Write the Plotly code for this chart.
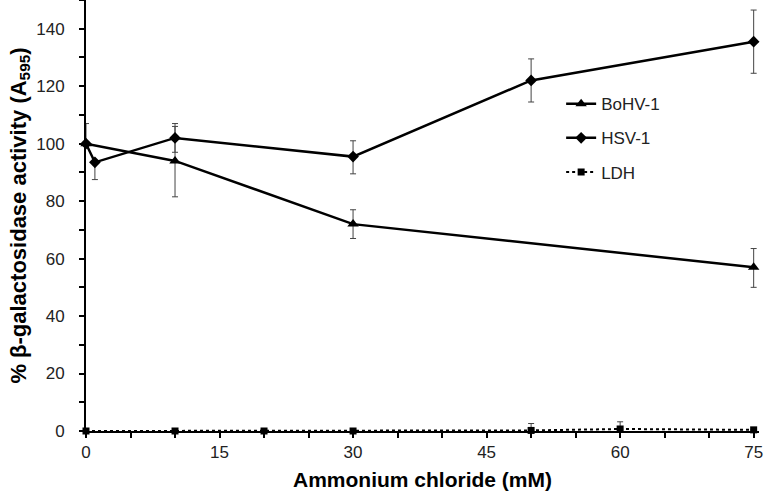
import plotly.graph_objects as go

# BoHV-1 (triangles)
bohv_x = [0, 10, 30, 75]
bohv_y = [100, 94, 72, 57]
bohv_err_plus = [7, 12, 5, 6.5]
bohv_err_minus = [0, 12.5, 5, 7]

# HSV-1 (diamonds)
hsv_x = [0, 1, 10, 30, 50, 75]
hsv_y = [100, 93.5, 102, 95.5, 122, 135.5]
hsv_err_plus = [0, 0, 5, 5.5, 7.5, 11]
hsv_err_minus = [0, 6, 5, 6, 7.5, 11]

# LDH (squares, dotted)
ldh_x = [0, 10, 20, 30, 50, 60, 75]
ldh_y = [0, 0, 0, 0, 0.2, 0.7, 0.4]
ldh_err_plus = [0, 0, 0, 0, 2.4, 2.5, 0]
ldh_err_minus = [0, 0, 0, 0, 0, 0, 0]

x_ticks = [0, 15, 30, 45, 60, 75]
y_ticks = [0, 20, 40, 60, 80, 100, 120, 140]

err_style = dict(type="data", symmetric=False, color="#444444", thickness=1, width=3)

fig = go.Figure()
fig.add_trace(go.Scatter(
    x=bohv_x, y=bohv_y, name="BoHV-1", mode="lines+markers",
    line=dict(color="black", width=2.5),
    marker=dict(symbol="triangle-up", size=10, color="black"),
    error_y=dict(array=bohv_err_plus, arrayminus=bohv_err_minus, **err_style),
    cliponaxis=False, legendgroup="a"))
fig.add_trace(go.Scatter(
    x=hsv_x, y=hsv_y, name="HSV-1", mode="lines+markers",
    line=dict(color="black", width=2.5),
    marker=dict(symbol="diamond", size=9, color="black"),
    error_y=dict(array=hsv_err_plus, arrayminus=hsv_err_minus, **err_style),
    cliponaxis=False, legendgroup="b"))
fig.add_trace(go.Scatter(
    x=ldh_x, y=ldh_y, name="LDH", mode="lines+markers",
    line=dict(color="black", width=2, dash="dot"),
    marker=dict(symbol="square", size=7, color="black"),
    error_y=dict(array=ldh_err_plus, arrayminus=ldh_err_minus, **err_style),
    cliponaxis=False, legendgroup="c"))

axis_common = dict(showline=True, linecolor="black", linewidth=2, showgrid=False,
                   zeroline=False, ticks="outside", ticklen=5, tickwidth=1.5,
                   tickcolor="black", automargin=False,
                   tickfont=dict(family="Liberation Sans, Arial", size=17, color="#222222"))

fig.update_layout(
    width=766, height=500,
    margin=dict(l=86, r=7, t=0, b=69),
    paper_bgcolor="white", plot_bgcolor="white",
    font=dict(family="Liberation Sans, Arial", color="black"),
    showlegend=True,
    legend=dict(x=0.706, y=0.80, xanchor="left", yanchor="top",
                font=dict(size=17, family="Liberation Sans, Arial", color="#222222"),
                tracegroupgap=9, bgcolor="rgba(0,0,0,0)"),
    xaxis=dict(range=[0, 75.6], tickvals=x_ticks,
               minor=dict(dtick=5, tick0=0, ticks="outside", ticklen=5, tickwidth=1.5, tickcolor="black"),
               title=dict(text="<b>Ammonium chloride (mM)</b>", font=dict(size=21), standoff=11),
               **axis_common),
    yaxis=dict(range=[0, 150], tickvals=y_ticks, ticklabelstandoff=11,
               minor=dict(dtick=10, tick0=0, ticks="outside", ticklen=5, tickwidth=1.5, tickcolor="black"),
               title=dict(text="<b>% β-galactosidase activity (A<sub>595</sub>)</b>", font=dict(size=22), standoff=4),
               **axis_common),
)

fig.write_html("out.html", config={"displayModeBar": False},
               post_script="document.body.style.margin='0';document.body.style.overflow='hidden';")
